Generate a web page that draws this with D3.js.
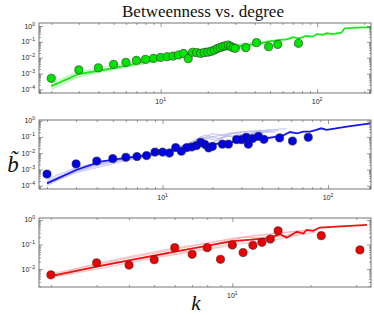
<!DOCTYPE html>
<html lang="en">
<head>
<meta charset="UTF-8" />
<script src="https://d3js.org/d3.v7.min.js"></script>
<title>Betweenness vs. degree</title>
<style>
  body { margin: 0; background: #fff; }
  svg { display: block; }
</style>
</head>
<body>
<svg width="374" height="315"></svg>
<script>
// ---- data ----
// green panel
const greenK = [2, 3, 4, 5, 6, 7, 8, 9, 10, 11, 12, 13, 14, 15, 16, 17, 18, 19, 20, 21, 22, 23, 24, 25, 26, 27, 28, 29, 30, 35, 41, 49, 56, 76]
const greenB = [5.0e-4, 1.7e-3, 2.3e-3, 3.8e-3, 5.1e-3, 6.8e-3, 7.9e-3, 9.1e-3, 1.05e-2, 1.15e-2, 1.26e-2, 1.48e-2, 1.86e-2, 8.7e-3,
  2.2e-2, 2.1e-2, 1.86e-2, 2.1e-2, 2.2e-2, 2.5e-2, 3.0e-2, 3.8e-2, 4.4e-2, 5.2e-2, 5.6e-2, 6.3e-2, 5.2e-2, 4.3e-2, 3.9e-2,
  4.3e-2, 8.9e-2, 4.9e-2, 6.9e-2, 8.1e-2]
const greenMeanK = [2, 3, 4, 5, 6, 7, 8, 10, 12, 15, 17, 20, 25, 30, 35, 43, 50, 58, 64, 70, 77, 85, 94, 99, 109, 115, 126, 143, 150, 196, 220]
const greenMeanB = [1.6e-4, 9.3e-4, 1.5e-3, 2.3e-3, 3.0e-3, 4.4e-3, 5.5e-3, 8.3e-3, 1.1e-2, 1.7e-2, 2.1e-2, 2.6e-2, 4.1e-2, 4.9e-2,
  6.0e-2, 8.1e-2, 0.107, 0.132, 0.145, 0.195, 0.166, 0.234, 0.214, 0.309, 0.282, 0.347, 0.309, 0.38, 0.71, 0.83, 0.83]
const greenRuns = [
  [[2, 2.5e-4], [3, 1.3e-3], [5, 3.2e-3], [10, 1.1e-2], [20, 4.5e-2], [30, 7e-2], [50, 0.11], [70, 0.16]],
  [[2, 1e-4], [3, 6.3e-4], [5, 1.8e-3], [10, 6.3e-3], [20, 2.0e-2], [30, 3.5e-2], [50, 7.9e-2]],
  [[2, 2.0e-4], [4, 1.4e-3], [8, 6.3e-3], [15, 2.0e-2], [25, 4.5e-2], [40, 8.9e-2], [60, 0.14]],
  [[2, 1.3e-4], [3, 1e-3], [6, 2.5e-3], [12, 1e-2], [22, 2.8e-2], [35, 5e-2], [45, 7.9e-2]],
  [[2, 1.8e-4], [3, 1.1e-3], [5, 2.0e-3], [9, 7e-3], [16, 2.6e-2], [24, 5.5e-2], [33, 6.5e-2]]
]

// blue panel
const blueK = [2, 3, 4, 5, 6, 7, 8, 9, 10, 11, 12, 13, 14, 15, 16, 17, 18, 19, 20, 23, 25, 28, 30, 32, 33, 35, 38, 41, 51, 61, 76]
const blueB = [5.2e-4, 2.2e-3, 3.3e-3, 4.6e-3, 5.6e-3, 6.2e-3, 7.1e-3, 1.17e-2, 1.17e-2, 1.02e-2, 2.2e-2, 1.32e-2, 2.2e-2, 2.4e-2,
  2.9e-2, 4.7e-2, 3.5e-2, 2.1e-2, 2.6e-2, 3.6e-2, 3.6e-2, 6.8e-2, 6.8e-2, 9.5e-2, 3.6e-2, 7.9e-2, 0.11, 7.1e-2, 8.7e-2, 5.6e-2, 9.5e-2]
const blueMeanK = [2, 3, 4.2, 6, 8, 10, 13, 17, 20, 28, 40, 49, 54, 59, 65, 71, 78, 85, 91, 98, 130, 180]
const blueMeanB = [1.4e-4, 9.3e-4, 3.0e-3, 5.2e-3, 7.4e-3, 1.1e-2, 2.0e-2, 3.0e-2, 3.5e-2, 5.1e-2, 7.4e-2, 0.105, 0.13, 0.20,
  0.166, 0.21, 0.21, 0.27, 0.34, 0.27, 0.43, 0.69]
const blueRuns = [
  [[2, 2.5e-4], [3, 1.3e-3], [5, 4e-3], [10, 1.4e-2], [15, 4e-2], [20, 0.1], [25, 0.16], [35, 0.22], [56, 0.32]],
  [[2, 1.3e-4], [3, 6.3e-4], [6, 3.5e-3], [10, 8.9e-3], [14, 3.2e-2], [18, 0.13], [22, 7.9e-2], [28, 0.2], [40, 0.25]],
  [[2, 2e-4], [4, 2e-3], [8, 7.9e-3], [13, 2.5e-2], [17, 0.1], [21, 6.3e-2], [26, 0.18], [32, 0.13], [45, 0.28]],
  [[2, 1e-4], [3, 7.9e-4], [5, 2.8e-3], [9, 1e-2], [12, 2.2e-2], [16, 5.6e-2], [19, 3.5e-2], [24, 0.1], [30, 0.14], [50, 0.25]],
  [[10, 1.2e-2], [20, 4e-2], [30, 6e-2], [40, 9e-2], [50, 0.12]],
  [[2, 1.7e-4], [3, 1.1e-3], [5, 3.2e-3], [9, 9e-3], [14, 2.4e-2], [20, 0.16], [27, 0.1], [36, 0.19], [48, 0.2]]
]

// red panel
const redK = [2, 3, 4, 5, 6, 7, 8, 9, 10, 11, 12, 13, 14, 15, 22, 31]
const redB = [5.8e-3, 1.8e-2, 1.45e-2, 2.4e-2, 7.4e-2, 4.0e-2, 7.4e-2, 2.5e-2, 9.5e-2, 4.7e-2, 9.3e-2, 0.123, 0.166, 0.363, 0.229, 6.0e-2]
const redMeanK = [2, 3, 6, 7.5, 10, 13.6, 15.3, 16.2, 17.7, 18.8, 19.3, 20.5, 21.7, 33]
const redMeanB = [5.1e-3, 1.26e-2, 5.1e-2, 7.8e-2, 0.138, 0.178, 0.263, 0.19, 0.33, 0.28, 0.39, 0.36, 0.49, 0.63]
const redRuns = [
  [[2, 6.3e-3], [4, 3.2e-2], [6, 7.1e-2], [9, 0.14], [12, 0.22], [15, 0.28], [20, 0.4]],
  [[2, 4.5e-3], [3, 1e-2], [5, 2.8e-2], [8, 6.3e-2], [11, 0.11], [14, 0.14], [18, 0.25]],
  [[2, 5.6e-3], [3, 1.6e-2], [6, 6.3e-2], [10, 0.18], [13, 0.25], [16, 0.32], [19, 0.35]],
  [[2, 5e-3], [4, 2.2e-2], [7, 5.6e-2], [10, 0.11], [13, 0.2], [17, 0.22], [21, 0.32]],
  [[3, 1.4e-2], [5, 3.5e-2], [8, 9e-2], [11, 0.2], [14, 0.18], [18, 0.3]]
]

const yTickExp = [[0, -1, -2, -3, -4], [0, -1, -2, -3, -4], [0, -1, -2]]
const xTickExp = [[1, 2], [1, 2], [1]]

// ---- layout ----
const left = 39, right = 371
const panels = [
  { top: 23, bottom: 93, xd: [1.67, 221], yd: [5.9e-5, 1.55], k: greenK, b: greenB, mk: greenMeanK, mb: greenMeanB, runs: greenRuns,
    dot: "#00e400", line: "#19ea19", faint: "#8ff08f" },
  { top: 120, bottom: 189, xd: [1.79, 182], yd: [6.3e-5, 1.1], k: blueK, b: blueB, mk: blueMeanK, mb: blueMeanB, runs: blueRuns,
    dot: "#0000e8", line: "#1515f5", faint: "#b0b0f2" },
  { top: 218, bottom: 287, xd: [1.8, 34.2], yd: [1.86e-3, 1.2], k: redK, b: redB, mk: redMeanK, mb: redMeanB, runs: redRuns,
    dot: "#ec0000", line: "#f41010", faint: "#f6a8a8" }
]

const svg = d3.select("svg")

// minor ticks for a log domain: 2..9 x 10^n
const minorTicks = d => {
  const out = []
  for (let e = Math.floor(Math.log10(d[0])); e <= Math.ceil(Math.log10(d[1])); e++)
    for (let m = 2; m <= 9; m++) {
      const v = m * Math.pow(10, e)
      if (v > d[0] && v < d[1]) out.push(v)
    }
  return out
}

const label = (g, x, y, exp, anchor) => {
  const t = g.append("text").attr("x", x).attr("y", y).attr("text-anchor", anchor)
    .attr("font-family", "Liberation Sans, Arial, sans-serif").attr("font-size", 7).attr("fill", "#222")
  t.append("tspan").text("10")
  t.append("tspan").attr("dy", -3).attr("font-size", 5).text(exp < 0 ? "\u2212" + (-exp) : exp)
}

panels.forEach((p, i) => {
  const x = d3.scaleLog().domain(p.xd).range([left, right])
  const y = d3.scaleLog().domain(p.yd).range([p.bottom, p.top])
  const g = svg.append("g")

  const line = d3.line().x(d => x(d[0])).y(d => y(d[1]))
  g.append("g").selectAll("path").data(p.runs).join("path")
    .attr("d", line).attr("fill", "none").attr("stroke", p.faint).attr("stroke-width", 1.2).attr("opacity", 0.65)

  g.append("path").datum(p.mk.map((k, j) => [k, p.mb[j]]))
    .attr("d", line).attr("fill", "none").attr("stroke", p.line).attr("stroke-width", 1.8)

  g.append("g").selectAll("circle").data(p.k.map((k, j) => [k, p.b[j]])).join("circle")
    .attr("cx", d => x(d[0])).attr("cy", d => y(d[1])).attr("r", 4.1)
    .attr("fill", p.dot).attr("stroke", "#2a2a2a").attr("stroke-width", 0.6)

  // axes: ticks pointing inward on all four sides
  const xMaj = xTickExp[i].map(e => Math.pow(10, e))
  const yMaj = yTickExp[i].map(e => Math.pow(10, e))
  const ax = [
    [d3.axisBottom(x), `translate(0,${p.bottom})`, xMaj, minorTicks(p.xd)],
    [d3.axisTop(x), `translate(0,${p.top})`, xMaj, minorTicks(p.xd)],
    [d3.axisLeft(y), `translate(${left},0)`, yMaj, minorTicks(p.yd)],
    [d3.axisRight(y), `translate(${right},0)`, yMaj, minorTicks(p.yd)]
  ]
  ax.forEach(([a, tr, maj, min]) => {
    g.append("g").attr("transform", tr)
      .call(a.tickValues(maj).tickSize(-4).tickFormat(""))
      .call(s => s.select(".domain").remove())
      .call(s => s.selectAll("line").attr("stroke", "#555").attr("stroke-width", 0.6))
    g.append("g").attr("transform", tr)
      .call(a.tickValues(min).tickSize(-2).tickFormat(""))
      .call(s => s.select(".domain").remove())
      .call(s => s.selectAll("line").attr("stroke", "#555").attr("stroke-width", 0.6))
  })

  g.append("rect").attr("x", left).attr("y", p.top).attr("width", right - left).attr("height", p.bottom - p.top)
    .attr("fill", "none").attr("stroke", "#666").attr("stroke-width", 0.9)

  yTickExp[i].forEach(e => label(g, 35, y(Math.pow(10, e)) + 2.5, e, "end"))
  xTickExp[i].forEach(e => label(g, x(Math.pow(10, e)), p.bottom + 11, e, "middle"))
})

svg.append("text").attr("x", 203).attr("y", 17).attr("text-anchor", "middle")
  .attr("font-family", "Liberation Serif, serif").attr("font-size", 17).attr("fill", "#111")
  .text("Betweenness vs. degree")

// y label: b with a tilde over it
svg.append("text").attr("x", 13).attr("y", 172).attr("text-anchor", "middle")
  .attr("font-family", "Liberation Serif, serif").attr("font-style", "italic").attr("font-size", 23).attr("fill", "#111")
  .text("b\u0303")

svg.append("text").attr("x", 196).attr("y", 310).attr("text-anchor", "middle")
  .attr("font-family", "Liberation Serif, serif").attr("font-style", "italic").attr("font-size", 21).attr("fill", "#111")
  .text("k")
</script>
</body>
</html>
